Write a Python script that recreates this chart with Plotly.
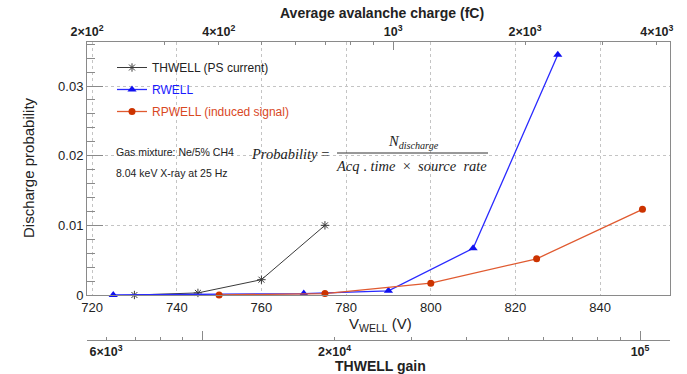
import plotly.graph_objects as go

# ---------------- data ----------------
v_thwell = [730, 745, 760, 775]
p_thwell = [0.0, 0.0003, 0.0022, 0.0100]
v_rwell = [725, 770, 790, 810, 830]
p_rwell = [0.0, 0.0002, 0.0006, 0.0067, 0.0345]
v_rpwell = [750, 775, 800, 825, 850]
p_rpwell = [0.0, 0.0002, 0.0017, 0.0052, 0.0123]

y_ticks = [0, 0.01, 0.02, 0.03]
y_ticklabels = ["0", "0.01", "0.02", "0.03"]
x_ticks = [720, 740, 760, 780, 800, 820, 840]

charge_ticks = [200, 400, 1000, 2000, 4000]
charge_labels = ["2×10<sup>2</sup>", "4×10<sup>2</sup>", "10<sup>3</sup>",
                 "2×10<sup>3</sup>", "4×10<sup>3</sup>"]
charge_minor = [300, 500, 600, 700, 800, 900, 3000]
charge_long = [1000]

gain_ticks = [6000, 20000, 100000]
gain_labels = ["6×10<sup>3</sup>", "2×10<sup>4</sup>", "10<sup>5</sup>"]
gain_minor = [7000, 8000, 9000, 10000, 30000, 40000, 50000, 60000, 70000, 80000, 90000]
gain_long = [10000, 100000]

# ---------------- layout geometry ----------------
W, H = 687, 374
ML, MR, MT, MB = 87, 17, 42, 34
PW, PH = W - ML - MR, H - MT - MB
Y_BOTTOM_PX = 295


def px(x):
    return (x - ML) / PW


def py(y):
    return (H - MB - y) / PH


FONT = "Liberation Sans, Arial, Helvetica, sans-serif"
SERIF = "Liberation Serif, Times New Roman, serif"
AX = "#8a8a8a"
TXT = "#222222"
GRID = "#c4c4c4"

fig = go.Figure()

fig.add_trace(go.Scatter(
    x=v_thwell, y=p_thwell, mode="lines+markers", name="THWELL (PS current)",
    line=dict(color="#3a3a3a", width=1),
    marker=dict(symbol="asterisk-open", size=7, line=dict(color="#707070", width=1)),
    cliponaxis=False, legendgroup="a"))
fig.add_trace(go.Scatter(
    x=v_rwell, y=p_rwell, mode="lines+markers",
    name='<span style="color:#1a1aff">RWELL</span>',
    line=dict(color="#2a2aff", width=1.3),
    marker=dict(symbol="triangle-up", size=8, color="#1010f0"),
    cliponaxis=False, legendgroup="b"))
fig.add_trace(go.Scatter(
    x=v_rpwell, y=p_rpwell, mode="lines+markers",
    name='<span style="color:#d9481f">RPWELL (induced signal)</span>',
    line=dict(color="#e05a30", width=1.3),
    marker=dict(symbol="circle", size=7, color="#cc3300"),
    cliponaxis=False, legendgroup="c"))

# empty traces so that the secondary axes are created and drawn
for xa, ya in [("x2", "y"), ("x4", "y"), ("x3", "y2"), ("x5", "y2")]:
    fig.add_trace(go.Scatter(x=[], y=[], xaxis=xa, yaxis=ya, showlegend=False,
                             hoverinfo="skip", mode="markers"))

fig.update_layout(
    width=W, height=H,
    margin=dict(l=ML, r=MR, t=MT, b=MB, pad=0),
    paper_bgcolor="white", plot_bgcolor="white",
    font=dict(family=FONT, color=TXT, size=13),
    showlegend=True,
    legend=dict(x=px(112), y=py(53), xanchor="left", yanchor="top",
                bgcolor="rgba(0,0,0,0)", font=dict(size=12, color=TXT),
                tracegroupgap=3, itemwidth=30),
    xaxis=dict(
        range=[718.8, 856.5], domain=[0, 1], anchor="y",
        tickmode="array", tickvals=x_ticks, ticks="", automargin=False,
        showline=True, linecolor=AX, linewidth=1,
        showgrid=True, gridcolor=GRID, griddash="dot", gridwidth=1,
        zeroline=False, tickfont=dict(size=13, color=TXT)),
    yaxis=dict(
        range=[0, 0.03632], domain=[py(Y_BOTTOM_PX), 1], anchor="x", automargin=False,
        tickmode="array", tickvals=y_ticks, ticktext=y_ticklabels,
        ticks="inside", ticklen=16, tickcolor=AX, tickwidth=1,
        minor=dict(dtick=0.002, tick0=0, ticks="inside", ticklen=8, tickcolor=AX, showgrid=False),
        showline=True, linecolor=AX, linewidth=1, mirror=True,
        showgrid=True, gridcolor=GRID, griddash="dot", gridwidth=1,
        zeroline=False, tickfont=dict(size=13, color=TXT)),
    xaxis2=dict(
        type="log", range=[2.30103, 3.632], overlaying="x", side="top", anchor="y",
        automargin=False,
        tickmode="array", tickvals=charge_ticks,
        ticktext=["<b>%s</b>" % t for t in charge_labels],
        ticks="inside", ticklen=3, tickcolor=AX,
        minor=dict(tickmode="array", tickvals=charge_minor, ticks="inside", ticklen=3,
                   tickcolor=AX, showgrid=False),
        showline=True, linecolor=AX, linewidth=1, showgrid=False, zeroline=False,
        tickfont=dict(size=12.5, color=TXT)),
    xaxis4=dict(
        type="log", range=[2.30103, 3.632], overlaying="x", side="top", anchor="y",
        automargin=False,
        tickmode="array", tickvals=charge_long, showticklabels=False,
        ticks="inside", ticklen=8, tickcolor=AX,
        showline=False, showgrid=False, zeroline=False),
    yaxis2=dict(domain=[0, 0.01], anchor="x3", visible=False, range=[0, 1],
                automargin=False),
    xaxis3=dict(
        type="log", range=[3.7346, 5.0686], anchor="y2", domain=[0, 1], side="bottom",
        automargin=False,
        tickmode="array", tickvals=gain_ticks,
        ticktext=["<b>%s</b>" % t for t in gain_labels],
        ticks="inside", ticklen=3.5, tickcolor=AX,
        minor=dict(tickmode="array", tickvals=gain_minor, ticks="inside", ticklen=3.5,
                   tickcolor=AX, showgrid=False),
        showline=True, linecolor=AX, linewidth=1, showgrid=False, zeroline=False,
        tickfont=dict(size=12.5, color=TXT)),
    xaxis5=dict(
        type="log", range=[3.7346, 5.0686], overlaying="x3", anchor="y2", side="bottom",
        automargin=False,
        tickmode="array", tickvals=gain_long, showticklabels=False,
        ticks="inside", ticklen=9, tickcolor=AX,
        showline=False, showgrid=False, zeroline=False),
)

ann = []
ann.append(dict(text="Discharge probability", x=px(28), y=py(168), textangle=-90,
                font=dict(size=15, color=TXT)))
ann.append(dict(text="V<sub>WELL</sub> (V)", x=px(380), y=py(324), font=dict(size=15, color=TXT)))
ann.append(dict(text="<b>Average avalanche charge (fC)</b>", x=px(382), y=py(13),
                font=dict(size=14, color=TXT)))
ann.append(dict(text="<b>THWELL gain</b>", x=px(380), y=py(366), font=dict(size=14, color=TXT)))
ann.append(dict(text="Gas mixture: Ne/5% CH4", x=px(114), y=py(152), xanchor="left",
                font=dict(size=10.5, color=TXT)))
ann.append(dict(text="8.04 keV X-ray at 25 Hz", x=px(114), y=py(173), xanchor="left",
                font=dict(size=10.5, color=TXT)))
ann.append(dict(text="<i>Probability</i> =", x=px(249), y=py(154), xanchor="left",
                font=dict(size=14.5, color=TXT, family=SERIF)))
ann.append(dict(text="<i>N<sub>discharge</sub></i>", x=px(413), y=py(142),
                font=dict(size=14.5, color=TXT, family=SERIF)))
ann.append(dict(text="<i>Acq</i> . <i>time</i>  ×  <i>source  rate</i>", x=px(411), y=py(166),
                font=dict(size=14.5, color=TXT, family=SERIF)))
for a in ann:
    a.setdefault("xanchor", "center")
    a.setdefault("yanchor", "middle")
    a.update(xref="paper", yref="paper", showarrow=False)
fig.update_layout(annotations=ann)

fig.add_shape(type="line", xref="paper", yref="paper",
              x0=px(337), x1=px(488), y0=py(153), y1=py(153),
              line=dict(color="#333333", width=1))

fig.write_html("out.html")
